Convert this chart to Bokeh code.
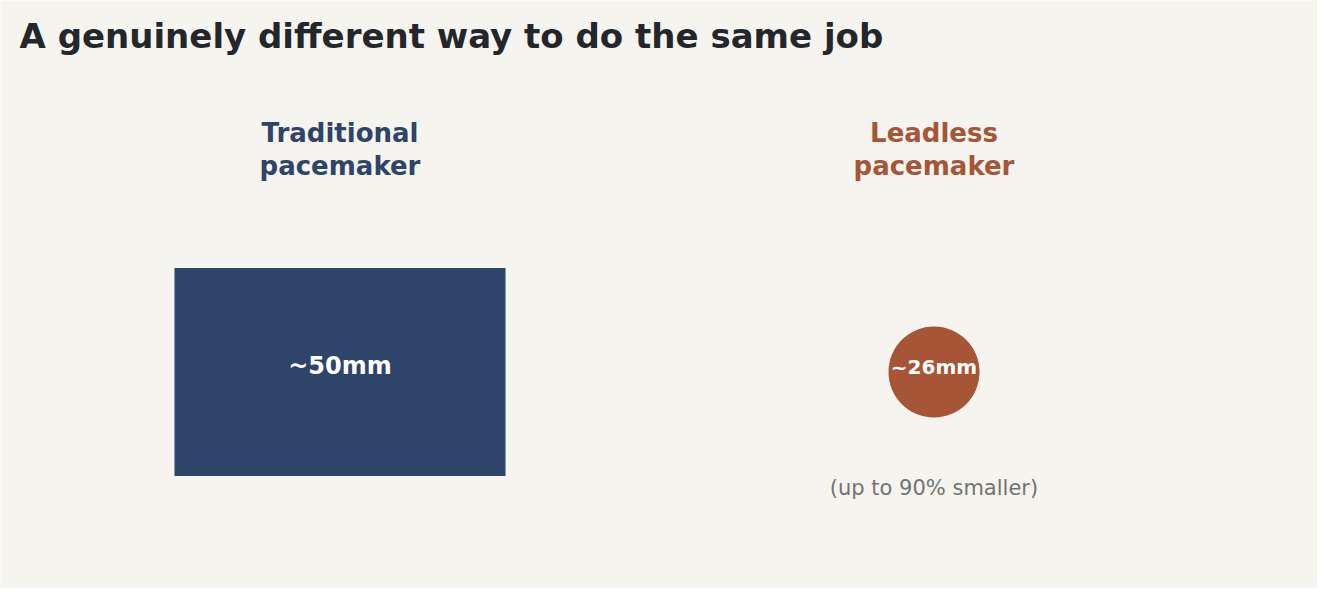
from bokeh.core.properties import value
from bokeh.embed import file_html
from bokeh.models import Range1d
from bokeh.plotting import figure
from bokeh.resources import INLINE

# data
title = "A genuinely different way to do the same job"
devices = ["Traditional\npacemaker", "Leadless\npacemaker"]
size_labels = ["~50mm", "~26mm"]
note = "(up to 90% smaller)"
colors = ["#2e4469", "#a65537"]

BG = "#f5f4ef"
W, H = 1317, 588

# layout (pixel coordinates, y going down)
col_x = [339.5, 933.5]
shape_y = 371.5

p = figure(width=W, height=H, output_backend="svg", toolbar_location=None,
           x_range=Range1d(0, W), y_range=Range1d(H, 0),
           min_border=0, background_fill_color=BG, border_fill_color=BG)
p.axis.visible = False
p.grid.visible = False
p.outline_line_color = None

font = value("DejaVu Sans")

p.text(x=[19], y=[35], text=[title], text_font=font, text_font_size="34px",
       text_font_style="bold", text_color="#23262b", text_baseline="middle")

# column headers
p.text(x=col_x, y=[149, 149], text=devices, text_font=font, text_font_size="26px",
       text_font_style="bold", text_color=colors, text_align="center",
       text_baseline="middle", text_line_height=1.1)

# traditional device: box
p.rect(x=[col_x[0]], y=[shape_y], width=331, height=208, fill_color=colors[0], line_color=None)
# leadless device: capsule seen end-on
p.circle(x=[col_x[1]], y=[shape_y], radius=45.5, fill_color=colors[1], line_color=None)

p.text(x=col_x, y=[365, 366], text=size_labels, text_font=font,
       text_font_size=["24px", "20px"], text_font_style="bold", text_color="white",
       text_align="center", text_baseline="middle")

p.text(x=[col_x[1]], y=[487], text=[note], text_font=font, text_font_size="21px",
       text_color="#737373", text_align="center", text_baseline="middle")

open("out.html", "w").write(file_html(p, INLINE))
